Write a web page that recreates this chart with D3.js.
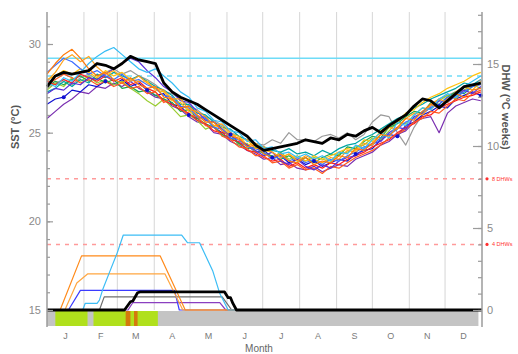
<!DOCTYPE html>
<html>
<head>
<meta charset="utf-8">
<script src="https://cdn.jsdelivr.net/npm/d3@7"></script>
<style>
  body { margin: 0; background: #fff; }
  svg { display: block; }
  text { font-family: "Liberation Sans", Arial, sans-serif; }
</style>
</head>
<body>
<svg id="chart" width="518" height="354"></svg>
<script>
// ---- data -------------------------------------------------------------
// day of year of each weekly SST sample
const weekDays = [0,7,14,21,28,35,42,49,56,63,70,77,84,91,98,105,112,119,126,133,140,147,154,161,168,175,182,189,196,203,210,217,224,231,238,245,252,259,266,273,280,287,294,301,308,315,322,329,336,343,350,357,364];

const monthStarts = [0,31,59,90,120,151,181,212,243,273,304,334,365];
const monthLabels = ["J","F","M","A","M","J","J","A","S","O","N","D"];

const sstTicks = [15,20,25,30];
const dhwTicks = [0,5,10,15];

// bleaching thresholds
const mmm = 28.2;          // maximum monthly mean
const bleachThreshold = 29.2;
const dhwLevels = [8,4];
const dhwLevelLabels = ["8 DHWs","4 DHWs"];

// past years, weekly SST (°C)
const sstOrange = [28.3,28.9,29.4,29.7,29.2,28.6,28.2,28.4,28.0,27.8,28.1,27.7,27.5,27.6,27.0,26.9,26.4,26.5,26.0,25.6,25.6,25.1,24.8,24.7,24.2,24.3,23.8,23.6,23.8,23.4,23.3,23.6,23.2,23.4,23.3,23.7,23.6,24.1,24.0,24.4,24.9,24.8,25.3,25.8,25.7,26.2,26.6,26.4,26.9,27.2,27.0,27.4,27.5];
const sstAmber = [27.9,28.4,29.1,29.4,29.0,29.3,28.7,28.3,28.5,28.1,27.9,28.2,27.8,27.5,27.4,26.9,26.9,26.3,26.2,25.9,25.4,25.5,25.0,24.6,24.6,24.1,24.2,23.9,23.6,23.8,23.4,23.7,23.5,23.3,23.6,23.5,24.0,23.9,24.4,24.3,24.9,25.3,25.2,25.8,26.1,26.0,26.6,26.9,26.7,27.3,27.6,27.4,27.9];
const sstSky = [27.8,27.6,28.1,27.9,28.4,28.9,29.3,29.6,29.8,29.4,29.0,28.6,28.4,28.6,28.2,27.8,27.3,27.0,26.4,26.2,25.7,25.6,25.1,25.0,24.5,24.6,24.1,24.2,23.8,23.9,23.6,23.8,23.5,23.7,23.4,23.9,23.8,24.3,24.1,24.6,25.0,24.7,25.6,25.4,26.0,26.4,26.3,26.9,27.2,27.0,27.6,27.9,28.2];
const sstNavy = [26.6,26.9,27.0,27.4,27.3,27.7,27.6,27.9,27.7,28.0,27.6,27.8,27.4,27.1,27.2,26.6,26.5,26.0,25.8,25.9,25.3,25.0,24.9,24.4,24.3,23.9,24.0,23.6,23.7,23.3,23.5,23.2,23.4,23.1,23.3,23.5,23.4,23.8,24.0,24.1,24.6,24.9,24.8,25.4,25.6,26.0,26.2,26.5,26.4,26.9,27.1,27.3,27.1];
const sstPurple = [25.8,26.2,26.6,26.9,27.3,27.2,27.6,27.5,27.8,27.6,27.9,27.5,27.3,27.0,26.9,26.5,26.3,25.9,25.6,25.5,25.0,24.9,24.5,24.3,24.0,23.8,23.5,23.6,23.2,23.3,23.0,22.9,23.1,22.8,23.0,23.2,23.1,23.5,23.7,23.9,24.3,24.5,24.9,25.1,25.6,25.8,25.9,25.0,26.1,26.5,26.7,26.9,26.8];
const sstViolet = [27.2,27.5,27.4,27.8,27.7,28.1,28.0,28.3,28.6,28.9,29.2,29.0,28.5,28.1,27.6,27.3,26.8,26.7,26.2,25.7,25.6,25.2,24.8,24.6,24.3,24.0,23.7,23.9,23.4,23.2,23.5,23.1,22.9,23.2,23.0,23.4,23.6,23.7,24.1,24.4,24.5,25.0,25.3,25.2,25.9,26.1,26.4,26.8,26.7,27.1,27.4,27.2,27.6];
const sstGreen = [27.6,27.9,27.7,28.0,28.2,27.9,28.1,27.8,28.0,27.5,27.6,27.3,27.4,27.1,26.9,26.7,26.2,26.3,25.8,25.5,25.3,24.9,24.7,24.4,24.1,24.2,23.8,23.7,23.5,23.7,23.4,23.6,23.3,23.6,23.8,23.7,24.2,24.1,24.5,24.8,24.7,25.3,25.5,25.9,26.2,26.1,26.7,26.6,27.0,27.3,27.2,27.6,27.8];
const sstLime = [27.4,27.8,27.6,28.1,27.9,28.2,27.8,28.0,27.7,27.9,27.5,27.2,26.8,26.5,26.9,26.4,25.9,26.0,25.7,25.2,25.4,24.8,24.9,24.3,24.4,23.9,23.9,23.6,23.9,23.5,23.7,23.4,23.6,23.5,23.4,23.8,23.9,24.2,24.3,24.7,24.6,25.1,25.6,25.5,26.0,26.4,26.3,26.8,27.1,26.9,27.4,27.7,27.5];
const sstRed = [27.9,27.7,28.0,27.8,28.3,28.1,27.9,28.2,27.9,28.1,27.7,27.9,27.5,27.3,26.8,26.6,26.3,26.1,25.7,25.5,25.1,25.0,24.6,24.5,24.0,23.9,23.6,23.4,23.5,23.1,23.3,23.0,23.2,23.0,23.3,23.2,23.5,23.7,23.9,24.2,24.4,24.6,25.0,25.3,25.5,25.9,26.0,26.4,26.6,26.8,27.0,27.1,27.3];
const sstVermilion = [27.7,28.0,28.3,28.1,27.8,28.0,27.7,27.9,27.6,27.8,27.5,27.6,27.2,27.3,26.7,26.9,26.4,26.0,25.9,25.4,25.3,24.8,24.6,24.2,24.1,23.7,23.7,23.3,23.4,23.0,23.2,22.9,23.0,22.7,23.1,23.0,23.3,23.6,23.8,24.0,24.3,24.7,24.9,25.2,25.6,25.8,26.2,26.1,26.5,26.9,26.8,27.2,27.4];
const sstTeal = [27.3,27.5,27.9,27.6,28.0,27.8,28.3,28.1,28.4,28.2,28.0,28.2,27.9,27.6,27.4,27.1,26.6,26.6,26.1,26.0,25.6,25.3,25.2,24.8,24.6,24.3,24.2,24.0,23.9,24.1,23.8,23.9,23.7,24.0,23.8,24.1,24.3,24.4,24.7,24.9,25.2,25.5,25.8,26.0,26.4,26.6,26.9,27.1,27.3,27.5,27.8,27.7,28.0];
const sstGold = [28.0,28.2,28.5,28.3,28.6,28.4,28.1,28.5,28.2,28.4,28.0,27.9,27.9,27.4,27.3,26.8,26.7,26.2,26.0,25.7,25.4,25.3,24.9,24.8,24.3,24.4,24.0,23.9,23.6,23.8,23.5,23.4,23.7,23.5,23.7,23.9,24.1,24.0,24.6,24.5,25.1,25.4,25.6,26.1,26.3,26.7,27.0,27.2,27.5,27.7,27.9,28.2,28.4];
const sstBlue = [28.4,28.8,29.2,29.0,28.6,28.3,28.5,28.2,28.0,28.3,27.9,28.0,27.7,27.5,27.1,27.0,26.5,26.4,25.9,25.8,25.3,25.2,24.7,24.6,24.2,24.1,23.9,23.5,23.7,23.4,23.6,23.3,23.5,23.2,23.5,23.4,23.7,23.9,24.2,24.3,24.7,24.9,25.2,25.6,25.8,26.2,26.4,26.6,27.0,27.0,27.3,27.6,27.7];
const sstGrey = [27.5,27.8,28.0,27.7,28.1,28.3,28.0,28.4,28.6,28.3,28.5,28.2,28.0,27.7,27.3,27.2,26.9,26.5,26.3,25.9,25.7,25.4,25.0,24.8,24.6,24.4,24.3,24.6,24.4,25.0,24.6,24.6,24.5,24.8,24.9,24.7,25.0,24.6,24.9,25.6,26.0,25.9,25.0,24.3,25.3,26.0,26.5,26.9,27.1,27.3,27.4,27.6,27.8];

// current year, weekly SST (°C)
const sstCurrent = [27.6,28.2,28.4,28.3,28.4,28.5,28.9,28.8,28.6,28.9,29.3,29.1,29.0,28.9,27.8,27.3,27.0,26.8,26.6,26.3,26.0,25.7,25.4,25.1,24.8,24.3,24.0,24.1,24.2,24.3,24.4,24.6,24.5,24.4,24.7,24.6,24.9,24.8,25.1,25.3,25.0,25.4,25.7,26.0,26.5,26.9,26.8,26.4,26.8,27.2,27.6,27.7,27.8];

// degree heating weeks (°C-weeks), breakpoints as day-of-year / value
const dhwOrangeDays = [0,11,29,95,116,365];
const dhwOrangeVals = [0,0,3.3,3.3,0,0];
const dhwAmberDays = [0,15,25,34,99,114,365];
const dhwAmberVals = [0,0,1.65,2.2,2.2,0,0];
const dhwBlueDays = [0,18,28,107,111,365];
const dhwBlueVals = [0,0,1.2,1.2,0,0];
const dhwSkyDays = [0,30,32,42,44,47,53,59,64,113,118,128,139,145,152,365];
const dhwSkyVals = [0,0,0.4,0.4,0.6,1.3,2.4,3.5,4.57,4.57,4.1,4.1,2.4,1.0,0,0];
const dhwGreyDays = [0,44,48,147,155,365];
const dhwGreyVals = [0,0,0.8,0.8,0,0];
const dhwVioletDays = [0,68,72,145,150,365];
const dhwVioletVals = [0,0,0.45,0.45,0,0];
const dhwCurrentDays = [0,65,67,70,72,76,78,149,152,154,156,159,365];
const dhwCurrentVals = [0,0,0.2,0.5,0.55,1.05,1.1,1.1,0.75,0.75,0.4,0,0];

// weekly alert status of the current year (1 = warning, 2 = alert level)
const alertStart = [7,39,66,73];
const alertEnd = [34,93,70,76];
const alertLevel = [1,1,2,2];

// ---- scales ------------------------------------------------------------
const svg = d3.select("#chart");
const plotLeft = 47, plotRight = 482, plotTop = 12, plotBottom = 327;

const x = d3.scaleLinear().domain([0,365]).range([plotLeft,plotRight]);
const y = d3.scaleLinear().domain([15,30]).range([310,44]);
const yD = d3.scaleLinear().domain([0,15]).range([310,64]);

// ---- month grid ---------------------------------------------------------
svg.append("g").selectAll("line")
  .data(monthStarts.slice(1,-1))
  .join("line")
  .attr("x1", d => x(d)).attr("x2", d => x(d))
  .attr("y1", plotTop).attr("y2", y(15))
  .attr("stroke", "#d6d6d6").attr("stroke-width", 1);

// ---- alert status bar -----------------------------------------------------
const barTop = y(15) + 1, barBottom = 326;
svg.append("rect")
  .attr("x", plotLeft).attr("y", barTop)
  .attr("width", x(362) - plotLeft).attr("height", barBottom - barTop)
  .attr("fill", "#c4c4c4");

const alerts = alertStart.map((s,i) => ({s, e: alertEnd[i], lvl: alertLevel[i]}))
  .sort((a,b) => a.lvl - b.lvl);
svg.append("g").selectAll("rect")
  .data(alerts)
  .join("rect")
  .attr("x", d => x(d.s)).attr("width", d => x(d.e) - x(d.s))
  .attr("y", barTop).attr("height", barBottom - barTop)
  .attr("fill", d => d.lvl === 1 ? "#b0e01c" : "#d47a0c");

// ---- reference lines ------------------------------------------------------
svg.append("line")
  .attr("x1", plotLeft).attr("x2", plotRight)
  .attr("y1", y(bleachThreshold)).attr("y2", y(bleachThreshold))
  .attr("stroke", "#6fdcf7").attr("stroke-width", 1.5);
svg.append("line")
  .attr("x1", plotLeft).attr("x2", plotRight)
  .attr("y1", y(mmm)).attr("y2", y(mmm))
  .attr("stroke", "#6fdcf7").attr("stroke-width", 1.5)
  .attr("stroke-dasharray", "5,5");
svg.append("g").selectAll("line")
  .data(dhwLevels)
  .join("line")
  .attr("x1", plotLeft).attr("x2", plotRight)
  .attr("y1", d => yD(d)).attr("y2", d => yD(d))
  .attr("stroke", "#ff9a9a").attr("stroke-width", 1.5)
  .attr("stroke-dasharray", "4,5");

// ---- SST lines -------------------------------------------------------------
const sstLine = d3.line()
  .x((d,i) => x(weekDays[i]))
  .y(d => y(d));

const pastYears = [
  {v: sstGrey, c: "#9a9a9a"},
  {v: sstPurple, c: "#7a2fb0"},
  {v: sstNavy, c: "#1010d0"},
  {v: sstLime, c: "#9acd32"},
  {v: sstGreen, c: "#1fa84a"},
  {v: sstTeal, c: "#00a5a5"},
  {v: sstRed, c: "#ff1f1f"},
  {v: sstVermilion, c: "#ff5a1f"},
  {v: sstGold, c: "#ffc20e"},
  {v: sstViolet, c: "#5a2ed8"},
  {v: sstBlue, c: "#3d6dff"},
  {v: sstAmber, c: "#ffa21a"},
  {v: sstSky, c: "#35bdf5"},
  {v: sstOrange, c: "#ff7a0a"}
];

svg.append("g").selectAll("path")
  .data(pastYears)
  .join("path")
  .attr("d", d => sstLine(d.v))
  .attr("fill", "none")
  .attr("stroke", d => d.c)
  .attr("stroke-width", 1.2)
  .attr("stroke-linejoin", "round");

// markers on the navy series
svg.append("g").selectAll("circle")
  .data(sstNavy.map((v,i) => ({v, i})).filter(d => d.i % 5 === 2))
  .join("circle")
  .attr("cx", d => x(weekDays[d.i])).attr("cy", d => y(d.v))
  .attr("r", 2).attr("fill", "#1010d0");

svg.append("path")
  .attr("d", sstLine(sstCurrent))
  .attr("fill", "none")
  .attr("stroke", "#000")
  .attr("stroke-width", 2.8)
  .attr("stroke-linejoin", "round");

// ---- DHW lines -------------------------------------------------------------
const dhwSeries = [
  {d: dhwGreyDays, v: dhwGreyVals, c: "#6e6e6e", w: 1.2},
  {d: dhwVioletDays, v: dhwVioletVals, c: "#8a3fc0", w: 1.2},
  {d: dhwBlueDays, v: dhwBlueVals, c: "#3b3bff", w: 1.2},
  {d: dhwAmberDays, v: dhwAmberVals, c: "#ffa640", w: 1.2},
  {d: dhwOrangeDays, v: dhwOrangeVals, c: "#ff8a1a", w: 1.2},
  {d: dhwSkyDays, v: dhwSkyVals, c: "#3cbdf5", w: 1.2},
  {d: dhwCurrentDays, v: dhwCurrentVals, c: "#000", w: 2.8}
];
const dhwLine = s => d3.line()
  .x((d,i) => x(s.d[i]))
  .y(d => yD(d))(s.v);

svg.append("g").selectAll("path")
  .data(dhwSeries)
  .join("path")
  .attr("d", dhwLine)
  .attr("fill", "none")
  .attr("stroke", d => d.c)
  .attr("stroke-width", d => d.w)
  .attr("stroke-linejoin", "round");

// ---- axes ------------------------------------------------------------------
const axisColor = "#9b9b9b";
const labelColor = "#8a8a8a";

function styleAxis(g) {
  g.select(".domain").remove();
  g.selectAll(".tick line").attr("stroke", axisColor).attr("stroke-width", 1.2);
  g.selectAll(".tick text").attr("fill", labelColor)
    .style("font-size", "11px").style("font-family", "'Liberation Sans', Arial, sans-serif");
}

// left: SST
svg.append("g").attr("transform", `translate(${plotLeft},0)`)
  .call(d3.axisLeft(y).tickValues(d3.range(15,32)).tickSize(-3).tickFormat(""))
  .call(styleAxis);
svg.append("g").attr("transform", `translate(${plotLeft},0)`)
  .call(d3.axisLeft(y).tickValues(sstTicks).tickSize(-6).tickPadding(6).tickFormat(d3.format("d")))
  .call(styleAxis);

// right: DHW
svg.append("g").attr("transform", `translate(${plotRight},0)`)
  .call(d3.axisRight(yD).tickValues(d3.range(0,19)).tickSize(-4).tickFormat(""))
  .call(styleAxis);
svg.append("g").attr("transform", `translate(${plotRight},0)`)
  .call(d3.axisRight(yD).tickValues(dhwTicks).tickSize(-9).tickPadding(5).tickFormat(d3.format("d")))
  .call(styleAxis);

svg.append("line").attr("x1", plotLeft).attr("x2", plotLeft).attr("y1", plotTop).attr("y2", plotBottom)
  .attr("stroke", axisColor).attr("stroke-width", 1.5);
svg.append("line").attr("x1", plotRight).attr("x2", plotRight).attr("y1", plotTop).attr("y2", plotBottom)
  .attr("stroke", axisColor).attr("stroke-width", 1.5);

// month labels
svg.append("g").selectAll("text")
  .data(monthLabels)
  .join("text")
  .attr("x", (d,i) => x((monthStarts[i] + monthStarts[i+1]) / 2))
  .attr("y", 339)
  .attr("text-anchor", "middle")
  .attr("fill", "#7a7a7a")
  .style("font-size", "9px")
  .text(d => d);

// DHW level labels
const lvl = svg.append("g").selectAll("g")
  .data(dhwLevels)
  .join("g")
  .attr("transform", d => `translate(${plotRight + 5},${yD(d)})`);
lvl.append("circle").attr("r", 1.6).attr("fill", "#ff3030");
lvl.append("text").attr("x", 5).attr("y", 2)
  .attr("fill", "#ff3030").style("font-size", "5.5px")
  .text((d,i) => dhwLevelLabels[i]);

// axis titles
svg.append("text")
  .attr("transform", "translate(19,127) rotate(-90)")
  .attr("text-anchor", "middle")
  .attr("fill", "#555").style("font-size", "11px").style("font-weight", "bold")
  .text("SST (°C)");
svg.append("text")
  .attr("transform", "translate(502,107) rotate(90)")
  .attr("text-anchor", "middle")
  .attr("fill", "#555").style("font-size", "11px").style("font-weight", "bold")
  .text("DHW (°C weeks)");
svg.append("text")
  .attr("x", 259).attr("y", 352)
  .attr("text-anchor", "middle")
  .attr("fill", "#666").style("font-size", "10px")
  .text("Month");
</script>
</body>
</html>
